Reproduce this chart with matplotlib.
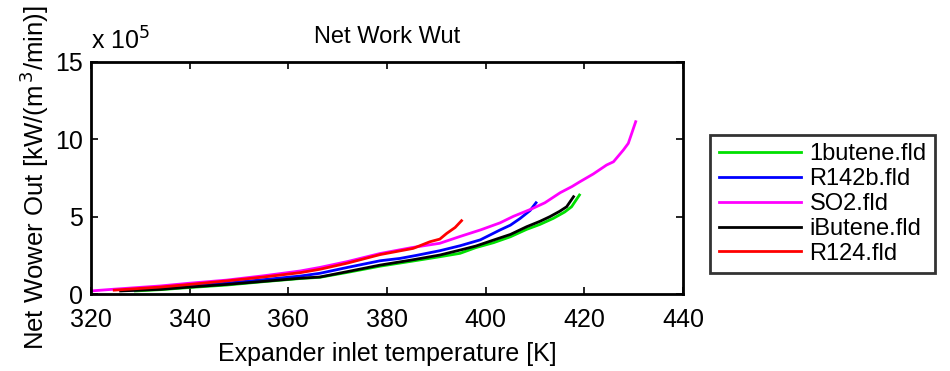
import matplotlib.pyplot as plt

plt.rcParams['font.family'] = ['Liberation Sans', 'DejaVu Sans']

# expander inlet temperature [K] and net power out [x 1e5 kW/(m3/min)]
t_so2 = [320, 325, 334, 340, 347.5, 355, 362.4, 366.4, 372, 378.6, 385, 390.7, 394.8,
         399, 402.9, 405.6, 409.3, 412, 415.1, 417.5, 419.1, 421.8, 424.5, 425.9,
         427.9, 428.9, 429.6, 430.4]
v_so2 = [0.2, 0.32, 0.52, 0.7, 0.9, 1.18, 1.49, 1.72, 2.1, 2.62, 3.0, 3.28, 3.72,
         4.15, 4.6, 5.02, 5.5, 5.9, 6.55, 6.95, 7.26, 7.76, 8.34, 8.55, 9.31,
         9.74, 10.39, 11.14]

t_r142b = [326.4, 334, 340, 347.5, 355, 362.4, 366.4, 372, 378.6, 382.6, 386, 390.7,
           394.8, 398.9, 402.9, 405, 407, 409, 410.2]
v_r142b = [0.22, 0.36, 0.5, 0.7, 0.93, 1.16, 1.34, 1.72, 2.15, 2.3, 2.5, 2.8,
           3.12, 3.5, 4.14, 4.45, 4.89, 5.4, 5.9]

t_1butene = [329, 334, 340, 347.5, 355, 362.4, 366.4, 372, 378.6, 385, 390.7, 394.8,
             398, 401.6, 405, 408.3, 411, 413.7, 416, 417.4, 419]
v_1butene = [0.2, 0.28, 0.42, 0.58, 0.8, 1.0, 1.08, 1.4, 1.8, 2.12, 2.41, 2.63,
             3.0, 3.32, 3.7, 4.18, 4.5, 4.89, 5.3, 5.64, 6.4]

t_ibutene = [326, 334, 340, 347.5, 355, 362.4, 366.4, 372, 378.6, 385, 390.7, 394.8,
             398, 401.6, 405, 408.3, 411, 413, 415, 416.4, 417.8]
v_ibutene = [0.2, 0.3, 0.45, 0.62, 0.82, 1.02, 1.1, 1.45, 1.87, 2.2, 2.52, 2.84,
             3.1, 3.49, 3.85, 4.35, 4.7, 5.0, 5.35, 5.64, 6.29]

t_r124 = [324.7, 334, 340, 347.5, 355, 362.4, 366.4, 372, 378.6, 385.3, 388.7, 390.7,
          392.1, 393.8, 395.1]
v_r124 = [0.25, 0.45, 0.62, 0.85, 1.1, 1.38, 1.6, 2.0, 2.55, 2.95, 3.38, 3.55,
          3.92, 4.3, 4.74]

series = [
    ('1butene.fld', t_1butene, v_1butene, '#00e000'),
    ('R142b.fld', t_r142b, v_r142b, '#0000ff'),
    ('SO2.fld', t_so2, v_so2, '#ff00ff'),
    ('iButene.fld', t_ibutene, v_ibutene, '#000000'),
    ('R124.fld', t_r124, v_r124, '#ff0000'),
]

fig = plt.figure(figsize=(9.5, 3.71), dpi=100)
ax = fig.add_axes([0.0958, 0.2075, 0.719 - 0.0958, 0.8329 - 0.2075])

for name, t, v, c in series:
    ax.plot(t, v, color=c, lw=2, label=name)

ax.set_xlim(320, 440)
ax.set_ylim(0, 15)
ax.set_xticks([320, 340, 360, 380, 400, 420, 440])
ax.set_yticks([0, 5, 10, 15])
ax.tick_params(direction='in', length=5, width=1.2, labelsize=18,
               top=True, right=True)
ax.tick_params(axis='x', pad=10)
ax.tick_params(axis='y', pad=6)
for s in ax.spines.values():
    s.set_linewidth(2)

ax.set_title('Net Work Wut', fontsize=17, pad=14)
ax.set_xlabel('Expander inlet temperature [K]', fontsize=18, labelpad=7)
ax.set_ylabel('Net Wower Out [kW/(m$^{\\,3}$/min)]', fontsize=18.5, labelpad=3)
ax.text(0.0, 1.03, 'x 10$^5$', transform=ax.transAxes, fontsize=18,
        ha='left', va='bottom')

leg = ax.legend(loc='center', bbox_to_anchor=(0.866, 0.45),
                bbox_transform=fig.transFigure, fontsize=17, fancybox=False,
                edgecolor='black', handlelength=3.5, labelspacing=0.12,
                borderpad=0.35, handletextpad=0.35)
leg.get_frame().set_linewidth(2)

fig.savefig('out.png', dpi=100)
